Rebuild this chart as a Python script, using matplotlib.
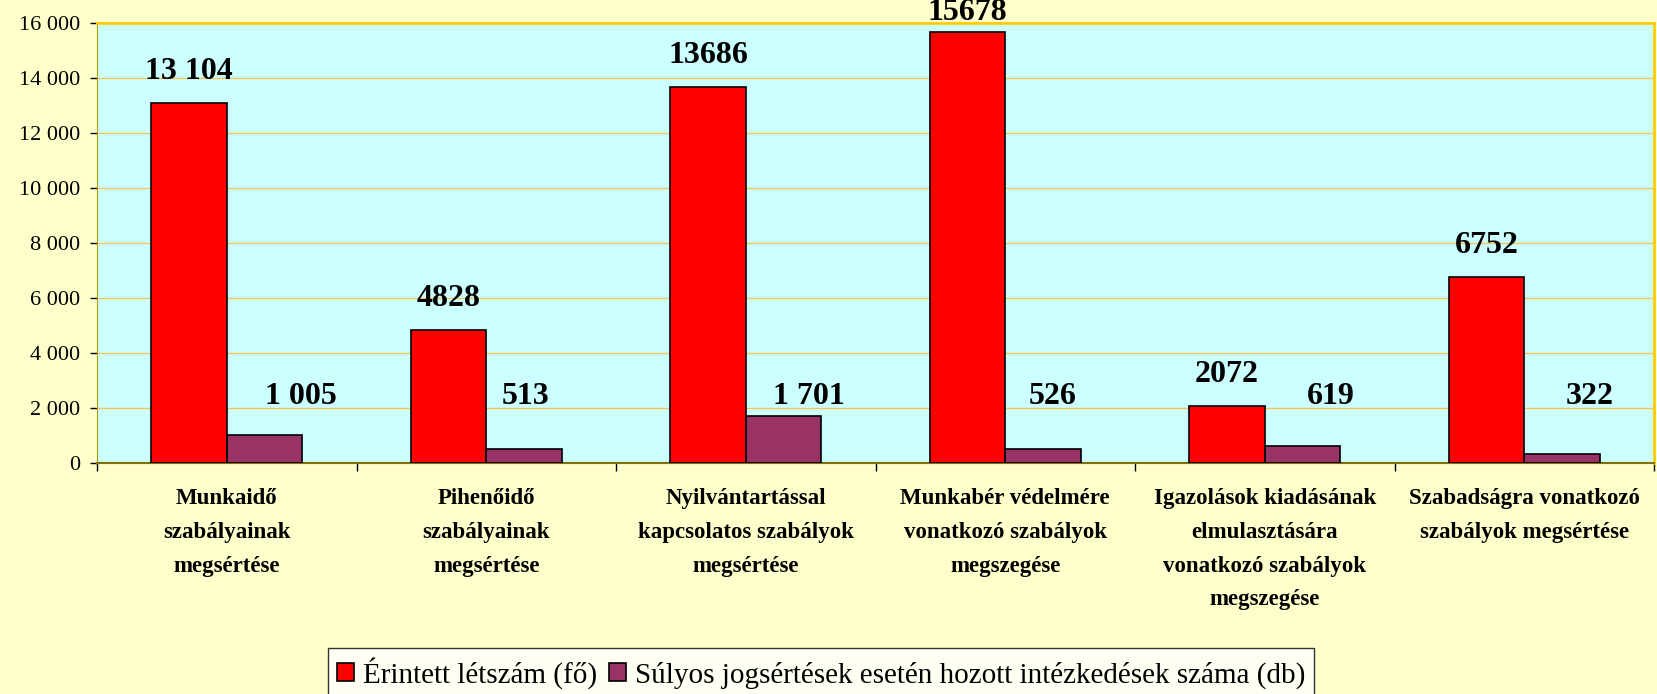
import matplotlib
matplotlib.use("Agg")
import matplotlib.pyplot as plt
from matplotlib.ticker import FuncFormatter, FixedLocator
import numpy as np

categories = [
    "Munkaidő\nszabályainak\nmegsértése",
    "Pihenőidő\nszabályainak\nmegsértése",
    "Nyilvántartással\nkapcsolatos szabályok\nmegsértése",
    "Munkabér védelmére\nvonatkozó szabályok\nmegszegése",
    "Igazolások kiadásának\nelmulasztására\nvonatkozó szabályok\nmegszegése",
    "Szabadságra vonatkozó\nszabályok megsértése",
]
erintett = [13104, 4828, 13686, 15678, 2072, 6752]
sulyos = [1005, 513, 1701, 526, 619, 322]
erintett_labels = ["13 104", "4828", "13686", "15678", "2072", "6752"]
sulyos_labels = ["1 005", "513", "1 701", "526", "619", "322"]
series_names = ["Érintett létszám (fő)",
                "Súlyos jogsértések esetén hozott intézkedések száma (db)"]

plt.rcParams["font.family"] = ["Liberation Serif", "DejaVu Serif"]

W, H = 1657, 694
fig = plt.figure(figsize=(W / 100, H / 100), dpi=100, facecolor="#FFFFCC")
ax = fig.add_axes([97 / W, 1 - 463 / H, (1654 - 97) / W, (463 - 23) / H])
ax.set_facecolor("#CCFFFF")

x = np.arange(len(categories))
bw = 0.29
bars1 = ax.bar(x - bw / 2, erintett, bw, color="#FF0000", edgecolor="black",
               linewidth=1.2, label=series_names[0], zorder=3)
bars2 = ax.bar(x + bw / 2, sulyos, bw, color="#993366", edgecolor="black",
               linewidth=1.2, label=series_names[1], zorder=3)

ax.set_xlim(-0.5, len(categories) - 0.5)
ax.set_ylim(0, 16000)
ax.set_yticks(np.arange(0, 16001, 2000))
ax.yaxis.set_major_formatter(FuncFormatter(lambda v, p: f"{int(v):,}".replace(",", " ")))
ax.tick_params(axis="y", labelsize=16, length=5, width=1, pad=7, color="black")
ax.grid(axis="y", color="#F2C45A", linewidth=1, zorder=0)

ax.set_xticks(x)
ax.set_xticklabels(categories, fontsize=16.5, fontweight="bold", linespacing=1.8)
ax.tick_params(axis="x", which="major", length=0, pad=18)
ax.xaxis.set_minor_locator(FixedLocator(np.arange(-0.5, len(categories), 1)))
ax.tick_params(axis="x", which="minor", length=6, width=1, color="black")

for side in ["top", "right"]:
    ax.spines[side].set_color("#FFCC00")
    ax.spines[side].set_linewidth(2)
ax.spines["left"].set_color("#B09A00")
ax.spines["bottom"].set_color("#807000")
ax.spines["bottom"].set_linewidth(1.5)

# red labels: 24 px above bar top, kept inside the figure
for xi, v, lab in zip(x, erintett, erintett_labels):
    px, py = ax.transData.transform((xi - bw / 2, v))
    yb = min(py + 24, H - 20)
    fig.text(px / W, yb / H, lab, ha="center", va="baseline",
             fontsize=23, fontweight="bold")

# purple labels sit on a common line, nudged sideways as in the original
label_dx = [36, 2, 25, 10, 28, 28]
for xi, lab, dx in zip(x, sulyos_labels, label_dx):
    ax.annotate(lab, (xi + bw / 2, 2150), xytext=(dx, 0), textcoords="offset pixels",
                ha="center", va="baseline", fontsize=23, fontweight="bold")

leg = fig.legend(handles=[bars1, bars2], loc="upper center",
                 bbox_to_anchor=(821 / W, 1 - 648 / H), ncol=2, fontsize=21,
                 frameon=True, fancybox=False, edgecolor="black", facecolor="white",
                 handlelength=0.6, handleheight=0.6, handletextpad=0.3,
                 columnspacing=0.4, borderpad=0.3, borderaxespad=0)
leg.get_frame().set_linewidth(1)

plt.savefig("out.png", dpi=100, facecolor=fig.get_facecolor())
plt.close()
